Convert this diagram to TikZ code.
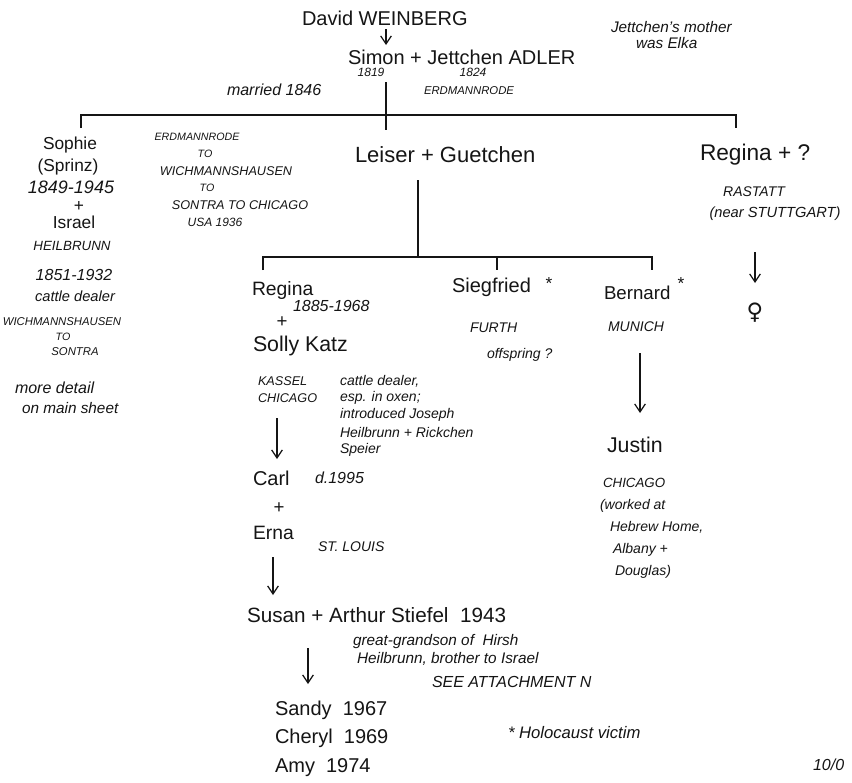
\documentclass[tikz,border=0pt]{standalone}
\usepackage{fontspec}
\setmainfont{Liberation Sans}
\newfontfamily\symfont{DejaVu Sans}
\usetikzlibrary{arrows.meta}
\newcommand{\fsz}[1]{\fontsize{#1}{#1}\selectfont}
\definecolor{ink}{HTML}{151515}
\begin{document}
\begin{tikzpicture}[x=0.75pt,y=-0.75pt,
  every node/.style={inner sep=0pt,outer sep=0pt,text=ink},
  hw/.style={font=\fsz{#1}},
  hwi/.style={font=\fsz{#1}\itshape},
  tree/.style={draw=ink,line width=1pt},
  arr/.style={draw=ink,line width=0.9pt,-{Straight Barb[length=6pt,width=8pt]}}]
\useasboundingbox (0,0) rectangle (852,782);
\fill[white] (0,0) rectangle (852,782);

% ---------- top generation
\node[hw=15,anchor=west] (david) at (302,18) {David WEINBERG};
\node[hw=15,anchor=west] (simon) at (348,57) {Simon + Jettchen ADLER};
\node[hwi=9] (y1819) at (371,72) {1819};
\node[hwi=9] (y1824) at (473,72) {1824};
\node[hwi=11.5,anchor=west] (jmother) at (611,27) {Jettchen's mother};
\node[hwi=11.5,anchor=west] (welka) at (636,43) {was Elka};
\node[hwi=12,anchor=west] (married) at (227,90) {married 1846};
\node[hwi=8.5,anchor=west] (erdtop) at (424,91) {ERDMANNRODE};

\coordinate (ax1) at (386,0);
\draw[arr] (ax1 |- 0,29) coordinate (a1s) -- (ax1 |- 0,45) coordinate (a1e);

% top bar
\coordinate (topA) at (386,82);
\coordinate (topB) at (386,130);
\coordinate (barL) at (81,115);
\coordinate (barR) at (736,115);
\draw[tree] (topA) -- (topB);
\draw[tree] ([yshift=-9.75pt]barL) -- (barL) -- (barR) -- ([yshift=-9.75pt]barR);

% ---------- Sophie column
\node[hw=13] (sophie) at (70,145) {Sophie};
\node[hw=13] (sprinz) at (68,167) {(Sprinz)};
\node[hwi=13.5] (sophy) at (71,187) {1849-1945};
\node[hw=13] (splus) at (79,206) {+};
\node[hw=13] (israel) at (74,222) {Israel};
\node[hwi=10] (heil) at (72,246) {HEILBRUNN};
\node[hwi=12] (isry) at (74,275) {1851-1932};
\node[hwi=11] (cattle1) at (75,296) {cattle dealer};
\node[hwi=8.5] (wich1) at (62,322) {WICHMANNSHAUSEN};
\node[hwi=8] (to3) at (63,337) {TO};
\node[hwi=8.5] (sontra1) at (75,352) {SONTRA};
\node[hwi=12,anchor=west] (more) at (15,388) {more detail};
\node[hwi=11.5,anchor=west] (mainsheet) at (22,408) {on main sheet};

% migration block
\node[hwi=8] (erd2) at (197,137) {ERDMANNRODE};
\node[hwi=8] (to1) at (205,154) {TO};
\node[hwi=9.5] (wich2) at (226,171) {WICHMANNSHAUSEN};
\node[hwi=8] (to2) at (207,188) {TO};
\node[hwi=9.5] (sontra2) at (240,205) {SONTRA TO CHICAGO};
\node[hwi=9] (usa) at (215,222) {USA 1936};

% ---------- Leiser + Guetchen
\node[hw=16.5,anchor=west] (leiser) at (355,155) {Leiser + Guetchen};
\coordinate (lA) at (418,180);
\coordinate (lB) at (418,257);
\coordinate (b2L) at (263,257);
\coordinate (b2M) at (497,257);
\coordinate (b2R) at (652,257);
\draw[tree] (lA) -- (lB);
\draw[tree] ([yshift=-9.75pt]b2L) -- (b2L) -- (b2R) -- ([yshift=-9.75pt]b2R);
\draw[tree] (b2M) -- ([yshift=-9.75pt]b2M);

% ---------- Regina (right)
\node[hw=17,anchor=west] (reginaR) at (700,155) {Regina + ?};
\node[hwi=10.5] (rastatt) at (754,192) {RASTATT};
\node[hwi=11] (stutt) at (775,214) {(near STUTTGART)};
\node[font=\symfont\fsz{17},text=ink] (female) at (755,313) {♀};
\coordinate (ax2) at (755,0);
\draw[arr] (ax2 |- 0,252) -- (ax2 |- 0,283);

% ---------- Regina + Solly Katz
\node[hw=14.5,anchor=west] (regina) at (252,290) {Regina};
\node[hwi=12,anchor=west] (reginay) at (293,306) {1885-1968};
\node[hw=14] (rplus) at (282,322) {+};
\node[hw=16,anchor=west] (solly) at (253,346) {Solly Katz};
\node[hwi=9.5,anchor=west] (kassel) at (258,381) {KASSEL};
\node[hwi=9.5,anchor=west] (chicago1) at (258,398) {CHICAGO};
\node[hwi=10.5,anchor=west] (n1) at (340,381) {cattle dealer,};
\node[hwi=10.5,anchor=west] (n2) at (340,398) {esp. in oxen;};
\node[hwi=10.5,anchor=west] (n3) at (340,415) {introduced Joseph};
\node[hwi=10.5,anchor=west] (n4) at (340,432) {Heilbrunn + Rickchen};
\node[hwi=10.5,anchor=west] (n5) at (340,450) {Speier};
\coordinate (ax3) at (277,0);
\draw[arr] (ax3 |- 0,418) -- (ax3 |- 0,459);

\node[hw=15,anchor=west] (carl) at (253,478) {Carl};
\node[hwi=12,anchor=west] (carld) at (315,478) {d.1995};
\node[hw=14] (cplus) at (279,508) {+};
\node[hw=14.5,anchor=west] (erna) at (253,533) {Erna};
\node[hwi=10.5,anchor=west] (stlouis) at (318,547) {ST. LOUIS};
\coordinate (ax4) at (273,0);
\draw[arr] (ax4 |- 0,557) -- (ax4 |- 0,595);

\node[hw=15.5,anchor=west] (susan) at (247,615) {Susan + Arthur Stiefel\ \ 1943};
\node[hwi=11.5,anchor=west] (gg1) at (353,642) {great-grandson of\ \ Hirsh};
\node[hwi=11.5,anchor=west] (gg2) at (357,659) {Heilbrunn,\ brother to\ Israel};
\node[hwi=12,anchor=west] (attach) at (432,682) {SEE ATTACHMENT N};
\coordinate (ax5) at (308,0);
\draw[arr] (ax5 |- 0,648) -- (ax5 |- 0,684);

\node[hw=15,anchor=west] (sandy) at (275,710) {Sandy\ \ 1967};
\node[hw=15,anchor=west] (cheryl) at (275,738) {Cheryl\ \ 1969};
\node[hw=15,anchor=west] (amy) at (275,768) {Amy\ \ 1974};
\node[hwi=12.5,anchor=west] (holo) at (508,733) {*\ Holocaust victim};
\node[hwi=12,anchor=west] (date) at (813,765) {10/0};

% ---------- Siegfried
\node[hw=15,anchor=west] (sieg) at (452,287) {Siegfried};
\node[hw=13] (siegstar) at (549,284) {*};
\node[hwi=10.5,anchor=west] (furth) at (470,328) {FURTH};
\node[hwi=10.5,anchor=west] (offs) at (487,355) {offspring ?};

% ---------- Bernard
\node[hw=14,anchor=west] (bern) at (604,293) {Bernard};
\node[hw=13] (bernstar) at (681,284) {*};
\node[hwi=10.5,anchor=west] (munich) at (608,327) {MUNICH};
\coordinate (ax6) at (640,0);
\draw[arr] (ax6 |- 0,353) -- (ax6 |- 0,413);
\node[hw=16,anchor=west] (justin) at (607,445) {Justin};
\node[hwi=10,anchor=west] (chicago2) at (603,483) {CHICAGO};
\node[hwi=10.5,anchor=west] (w1) at (600,506) {(worked at};
\node[hwi=10.5,anchor=west] (w2) at (610,527) {Hebrew Home,};
\node[hwi=10.5,anchor=west] (w3) at (613,550) {Albany +};
\node[hwi=10.5,anchor=west] (w4) at (615,572) {Douglas)};
\end{tikzpicture}
\end{document}
